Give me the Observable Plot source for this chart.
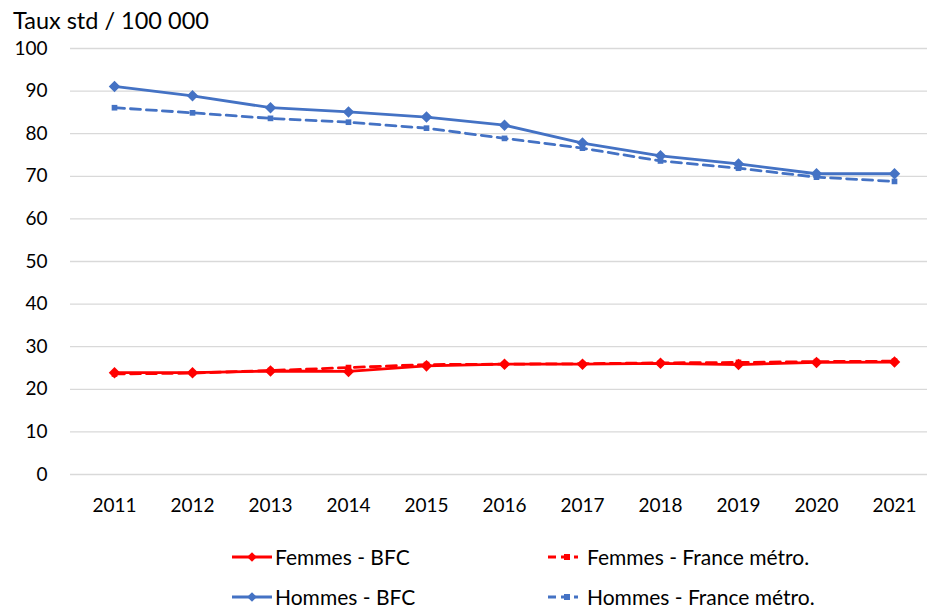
<!DOCTYPE html>
<html><head><meta charset="utf-8">
<script src="https://cdn.jsdelivr.net/npm/d3@7"></script>
<script src="https://cdn.jsdelivr.net/npm/@observablehq/plot@0.6"></script>
<style>
body{margin:0;background:#fff;font-family:Lato,"Open Sans",sans-serif;}
#wrap{position:relative;width:927px;height:611px;overflow:hidden;}
#title{position:absolute;left:13px;top:6px;font-size:23.5px;color:#000;white-space:nowrap;}
#chart{position:absolute;left:0;top:36px;}
.leg{position:absolute;font-size:21px;line-height:22px;color:#000;white-space:nowrap;display:flex;align-items:center;height:22px;}
.leg svg{margin-right:3px;}
</style></head>
<body><div id="wrap"><div id="title">Taux std / 100 000</div><div id="chart"></div><div id="legend"></div></div>
<script>
const years = [2011,2012,2013,2014,2015,2016,2017,2018,2019,2020,2021];
const femmesBFC = [23.9,23.9,24.3,24.2,25.5,25.9,25.9,26.1,25.8,26.3,26.4];
const femmesFrance = [23.6,23.8,24.4,25.1,25.8,25.9,26.0,26.2,26.3,26.5,26.6];
const hommesBFC = [91.1,88.9,86.1,85.1,83.9,82.0,77.8,74.8,72.9,70.6,70.6];
const hommesFrance = [86.1,84.9,83.6,82.7,81.3,78.9,76.6,73.6,71.9,69.8,68.8];
const yTicks = [0,10,20,30,40,50,60,70,80,90,100];
const seriesNames = ["Femmes - BFC","Femmes - France métro.","Hommes - BFC","Hommes - France métro."];
const seriesColors = ["#ff0000","#ff0000","#4472c4","#4472c4"];

const series = [femmesBFC, femmesFrance, hommesBFC, hommesFrance];
const rows = (i) => years.map((y,k)=>({year:y, value:series[i][k]}));
const dash = "10,6";

const marks = [
  Plot.ruleY(yTicks, {stroke:"#d9d9d9", strokeWidth:1.3}),
  Plot.axisY({ticks:yTicks, tickSize:0, tickPadding:23, fontSize:19, label:null, color:"#000"}),
  Plot.axisX({tickSize:0, tickPadding:24, fontSize:19, label:null, tickFormat:d=>String(d)}),
];
[3,2,1,0].forEach(i=>{
  const dashed = i%2===1;
  marks.push(Plot.line(rows(i), {x:"year", y:"value", stroke:seriesColors[i], strokeWidth:2.8, strokeDasharray: dashed?dash:null}));
  marks.push(Plot.dot(rows(i), {x:"year", y:"value", fill:seriesColors[i], stroke:null, symbol: dashed?"square":"diamond2", r: dashed?3.2:5.2}));
});

const plot = Plot.plot({
  width:927, height:490,
  marginTop:12, marginBottom:52, marginLeft:70, marginRight:0,
  style:{fontFamily:"Lato, 'Open Sans', sans-serif", color:"#000", background:"#fff"},
  x:{type:"point", domain:years, range:[110,898], padding:0},
  y:{domain:[0,100], range:[438,12]},
  marks
});
document.getElementById("chart").appendChild(plot);

// Legend
const legPos = [[232,546],[548,546],[232,586],[548,586]];
const legTextX = [275,587,275,587];
const legend = document.getElementById("legend");
seriesNames.forEach((name,i)=>{
  const dashed = i%2===1;
  const d = document.createElement("div");
  d.className="leg";
  d.style.left = legPos[i][0]+"px";
  d.style.top = legPos[i][1]+"px";
  const w = dashed?30:40;
  const sw = d3.create("svg").attr("width",legTextX[i]-legPos[i][0]-3).attr("height",20);
  sw.append("line").attr("x1",0).attr("x2",w).attr("y1",10).attr("y2",10)
    .attr("stroke",seriesColors[i]).attr("stroke-width",2.8).attr("stroke-dasharray",dashed?"8,5":null);
  if(dashed){
    sw.append("rect").attr("x",w/2+1).attr("y",7).attr("width",6).attr("height",6).attr("fill",seriesColors[i]);
  } else {
    sw.append("path").attr("d",d3.symbol(d3.symbolDiamond2,60)()).attr("transform",`translate(${w/2},10)`).attr("fill",seriesColors[i]);
  }
  d.appendChild(sw.node());
  const t = document.createElement("span"); t.textContent=name; d.appendChild(t);
  legend.appendChild(d);
});
</script></body></html>
